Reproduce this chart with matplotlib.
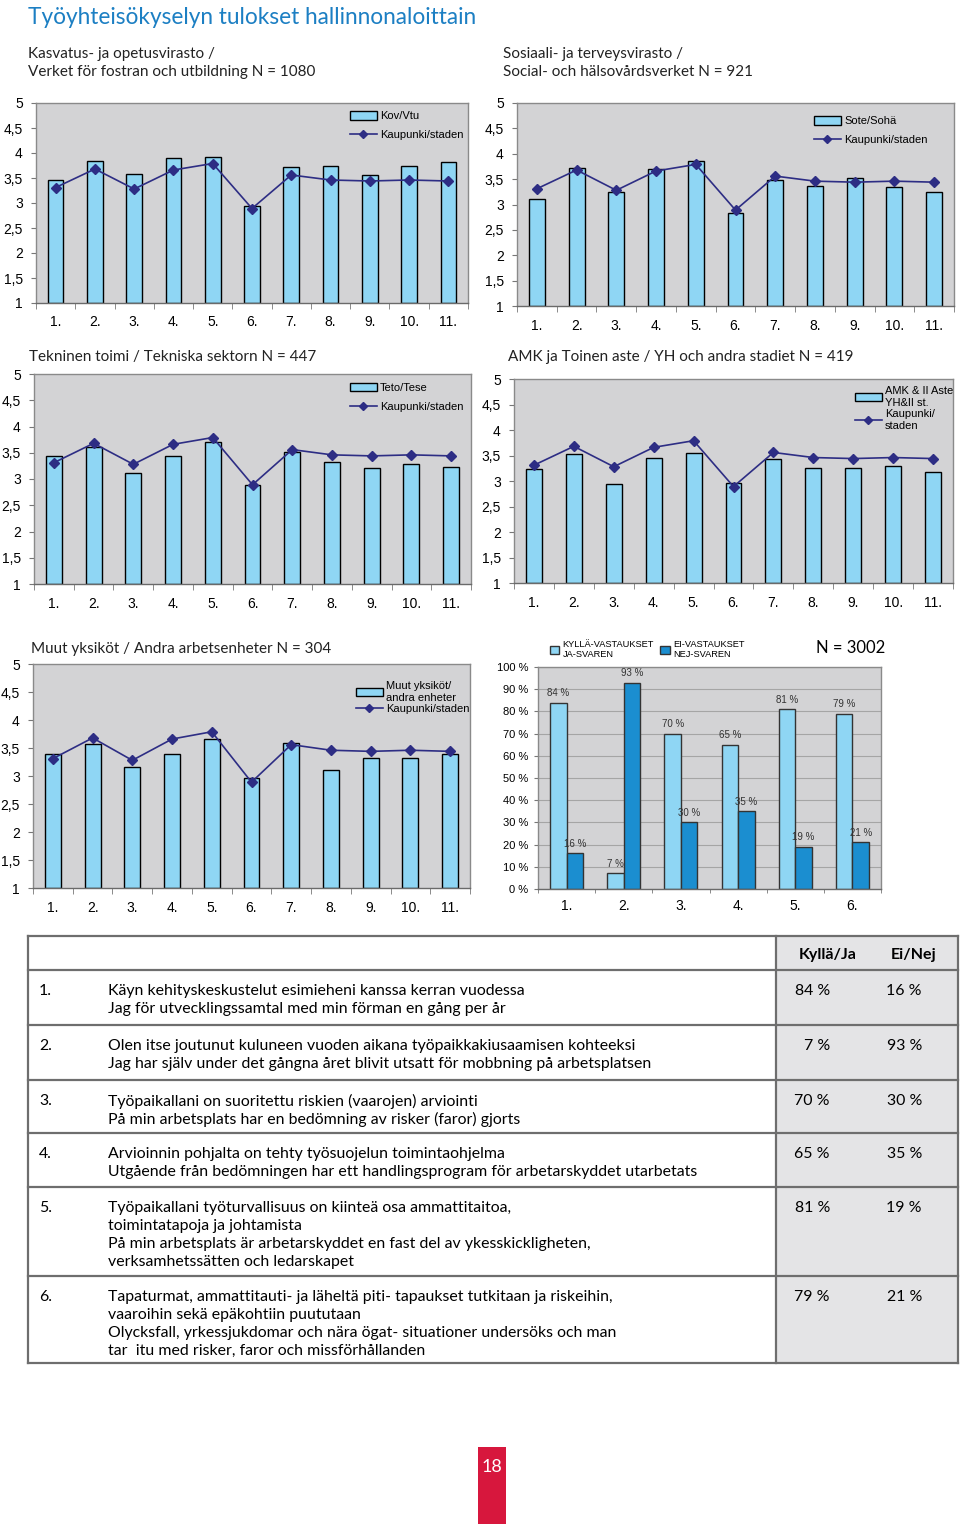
import numpy as np
import matplotlib.pyplot as plt
from matplotlib.patches import Rectangle, Patch
from matplotlib.lines import Line2D

W, H = 960, 1524

# data
items = ['1.', '2.', '3.', '4.', '5.', '6.', '7.', '8.', '9.', '10.', '11.']
city = [3.31, 3.68, 3.28, 3.66, 3.79, 2.89, 3.56, 3.46, 3.44, 3.46, 3.44]
kov = [3.47, 3.85, 3.59, 3.90, 3.93, 2.95, 3.72, 3.74, 3.57, 3.74, 3.82]
sote = [3.11, 3.71, 3.24, 3.69, 3.86, 2.83, 3.48, 3.37, 3.53, 3.34, 3.25]
teto = [3.43, 3.61, 3.11, 3.43, 3.70, 2.89, 3.51, 3.33, 3.21, 3.29, 3.23]
amk = [3.23, 3.52, 2.95, 3.46, 3.54, 2.97, 3.43, 3.26, 3.26, 3.29, 3.18]
muut = [3.39, 3.57, 3.16, 3.39, 3.66, 2.96, 3.59, 3.11, 3.32, 3.32, 3.39]

q_items = ['1.', '2.', '3.', '4.', '5.', '6.']
yes_pct = [84, 7, 70, 65, 81, 79]
no_pct = [16, 93, 30, 35, 19, 21]

questions = [
    ['Käyn kehityskeskustelut esimieheni kanssa kerran vuodessa',
     'Jag för utvecklingssamtal med min förman en gång per år'],
    ['Olen itse joutunut kuluneen vuoden aikana työpaikkakiusaamisen kohteeksi',
     'Jag har själv under det gångna året blivit utsatt för mobbning på arbetsplatsen'],
    ['Työpaikallani on suoritettu riskien (vaarojen) arviointi',
     'På min arbetsplats har en bedömning av risker (faror) gjorts'],
    ['Arvioinnin pohjalta on tehty työsuojelun toimintaohjelma',
     'Utgående från bedömningen har ett handlingsprogram för arbetarskyddet utarbetats'],
    ['Työpaikallani työturvallisuus on kiinteä osa ammattitaitoa,',
     'toimintatapoja ja johtamista',
     'På min arbetsplats är arbetarskyddet en fast del av ykesskickligheten,',
     'verksamhetssätten och ledarskapet'],
    ['Tapaturmat, ammattitauti- ja läheltä piti- tapaukset tutkitaan ja riskeihin,',
     'vaaroihin sekä epäkohtiin puututaan',
     'Olycksfall, yrkessjukdomar och nära ögat- situationer undersöks och man',
     'tar  itu med risker, faror och missförhållanden'],
]

light = '#8fd6f4'
dark = '#1b8ed0'
navy = '#2d2d84'
bg = '#d3d3d5'
blue_title = '#1c7fc3'
head_font = 'Lato'
axis_font = 'Liberation Sans'


def box(l, t, r, b):
    return [l / W, 1 - b / H, (r - l) / W, (b - t) / H]


def fx(x):
    return x / W


def fy(y):
    return 1 - y / H


fig = plt.figure(figsize=(9.6, 15.24), dpi=100)
fig.patch.set_facecolor('white')


def style_axes(ax):
    ax.set_facecolor(bg)
    for s in ax.spines.values():
        s.set_color('#8a8a8a')
        s.set_linewidth(1)
    ax.spines['bottom'].set_color('#6a6a6a')


def score_chart(rect, vals, name, leg_at, spacing):
    ax = fig.add_axes(box(*rect))
    style_axes(ax)
    x = np.arange(len(items))
    ax.bar(x, np.array(vals) - 1, bottom=1, width=0.4, color=light,
           edgecolor='black', linewidth=1, zorder=2)
    ax.plot(x, city, color=navy, lw=1.2, marker='D', ms=5.5, zorder=3)
    ax.set_xlim(-0.5, len(items) - 0.5)
    ax.set_ylim(1, 5)
    yt = np.arange(1, 5.01, 0.5)
    ax.set_yticks(yt)
    ax.set_yticklabels([f'{v:g}'.replace('.', ',') for v in yt],
                       fontsize=10, family=axis_font)
    ax.tick_params(axis='y', length=3.5, color='#777777', pad=6)
    ax.set_xticks(x)
    ax.set_xticklabels(items, fontsize=10, family=axis_font)
    ax.set_xticks(np.arange(-0.5, len(items), 1), minor=True)
    ax.tick_params(axis='x', which='major', length=0, pad=9)
    ax.tick_params(axis='x', which='minor', length=4, color='#777777')
    handles = [Patch(facecolor=light, edgecolor='black', lw=1),
               Line2D([], [], color=navy, lw=1.2, marker='D', ms=4.5)]
    labels = [name[0], name[1]]
    ax.legend(handles, labels, loc='upper left',
              bbox_to_anchor=(fx(leg_at[0]), fy(leg_at[1])),
              bbox_transform=fig.transFigure, frameon=False,
              prop={'family': axis_font, 'size': 8}, handlelength=2.4,
              handleheight=0.8, handletextpad=0.3, labelspacing=spacing,
              borderpad=0, borderaxespad=0)
    return ax


# page title
fig.text(fx(28), fy(17), 'Työyhteisökyselyn tulokset hallinnonaloittain',
         color=blue_title, fontsize=16.3, family=head_font, va='center')

# subtitles
fig.text(fx(28), fy(54), 'Kasvatus- ja opetusvirasto /', fontsize=11,
         family=head_font, va='center', color='#222222')
fig.text(fx(28), fy(72), 'Verket för fostran och utbildning N = 1080', fontsize=11,
         family=head_font, va='center', color='#222222')
fig.text(fx(503), fy(54), 'Sosiaali- ja terveysvirasto /', fontsize=11,
         family=head_font, va='center', color='#222222')
fig.text(fx(503), fy(72), 'Social- och hälsovårdsverket N = 921', fontsize=11,
         family=head_font, va='center', color='#222222')
fig.text(fx(29), fy(357), 'Tekninen toimi / Tekniska sektorn N = 447', fontsize=11,
         family=head_font, va='center', color='#222222')
fig.text(fx(508), fy(357), 'AMK ja Toinen aste / YH och andra stadiet N = 419',
         fontsize=11, family=head_font, va='center', color='#222222')
fig.text(fx(31), fy(649), 'Muut yksiköt / Andra arbetsenheter N = 304', fontsize=11,
         family=head_font, va='center', color='#222222')

score_chart((36, 103, 468, 303), kov, ('Kov/Vtu', 'Kaupunki/staden'), (350, 111), 0.8)
score_chart((517, 103, 954, 306), sote, ('Sote/Sohä', 'Kaupunki/staden'), (814, 116), 0.8)
score_chart((34, 374, 471, 584), teto, ('Teto/Tese', 'Kaupunki/staden'), (350, 383), 0.8)
score_chart((514, 379, 953, 583), amk,
            ('AMK & II Aste\nYH&II st.', 'Kaupunki/\nstaden'), (855, 386), 0.15)
score_chart((33, 664, 470, 888), muut,
            ('Muut yksiköt/\nandra enheter', 'Kaupunki/staden'), (356, 681), 0.15)

# yes / no percentage chart
ax6 = fig.add_axes(box(538, 667, 881, 889))
style_axes(ax6)
ax6.set_axisbelow(True)
ax6.grid(axis='y', color='#a5a5a5', lw=0.8)
xq = np.arange(len(q_items))
bw = 0.29
ax6.bar(xq - bw / 2, yes_pct, width=bw, color=light, edgecolor='#333333', lw=1)
ax6.bar(xq + bw / 2, no_pct, width=bw, color=dark, edgecolor='#333333', lw=1)
for xi, v in zip(xq - bw / 2, yes_pct):
    ax6.text(xi, v + 2, f'{v} %', ha='center', va='bottom', fontsize=7,
             family=axis_font, color='#333333')
for xi, v in zip(xq + bw / 2, no_pct):
    ax6.text(xi, v + 2, f'{v} %', ha='center', va='bottom', fontsize=7,
             family=axis_font, color='#333333')
ax6.set_xlim(-0.5, len(q_items) - 0.5)
ax6.set_ylim(0, 100)
ax6.set_yticks(np.arange(0, 101, 10))
ax6.set_yticklabels([f'{v} %' for v in range(0, 101, 10)], fontsize=8, family=axis_font)
ax6.tick_params(axis='y', length=3, color='#777777', pad=4)
ax6.set_xticks(xq)
ax6.set_xticklabels(q_items, fontsize=10, family=axis_font)
ax6.set_xticks(np.arange(-0.5, len(q_items), 1), minor=True)
ax6.tick_params(axis='x', which='major', length=0, pad=7)
ax6.tick_params(axis='x', which='minor', length=3, color='#777777')
fig.legend([Patch(facecolor=light, edgecolor='#333333'),
            Patch(facecolor=dark, edgecolor='#333333')],
           ['KYLLÄ-VASTAUKSET\nJA-SVAREN', 'EI-VASTAUKSET\nNEJ-SVAREN'],
           ncol=2, loc='upper left', bbox_to_anchor=(fx(550), fy(640)),
           frameon=False, prop={'family': axis_font, 'size': 6.7},
           handlelength=1.0, handleheight=1.0, handletextpad=0.35,
           columnspacing=0.7, borderpad=0, borderaxespad=0)
fig.text(fx(816), fy(648), 'N = 3002', fontsize=12, family=head_font, va='center')

# table of questions
tab = fig.add_axes([0, 0, 1, 1])
tab.set_xlim(0, W)
tab.set_ylim(H, 0)
tab.axis('off')
rows = [936, 970, 1025, 1080, 1133, 1187, 1276, 1363]
tab.add_patch(Rectangle((776, rows[0]), 958 - 776, rows[-1] - rows[0],
                        facecolor='#e4e4e6', edgecolor='none'))
for yr in rows:
    tab.plot([28, 958], [yr, yr], color='#6e6e6e', lw=1.6)
for xv in (28, 776, 958):
    tab.plot([xv, xv], [rows[0], rows[-1]], color='#6e6e6e', lw=1.6)
tab.text(828, 955, 'Kyllä/Ja', ha='center', va='center', fontsize=11.5,
         family=head_font, weight='bold')
tab.text(914, 955, 'Ei/Nej', ha='center', va='center', fontsize=11.5,
         family=head_font, weight='bold')
for i, lines in enumerate(questions):
    y0 = rows[i + 1] + 21
    tab.text(39, y0, q_items[i], va='center', fontsize=11.4, family=head_font)
    for j, line in enumerate(lines):
        tab.text(108, y0 + 18 * j, line, va='center', fontsize=11.4, family=head_font)
    tab.text(830, y0, f'{yes_pct[i]} %', ha='right', va='center', fontsize=11.4,
             family=head_font)
    tab.text(922, y0, f'{no_pct[i]} %', ha='right', va='center', fontsize=11.4,
             family=head_font)

# page number
tab.add_patch(Rectangle((478, 1447), 28, 77, facecolor='#d7173d', edgecolor='none'))
tab.text(492, 1467, '18', ha='center', va='center', color='white', fontsize=13,
         family=head_font)

fig.savefig('out.png', dpi=100)
